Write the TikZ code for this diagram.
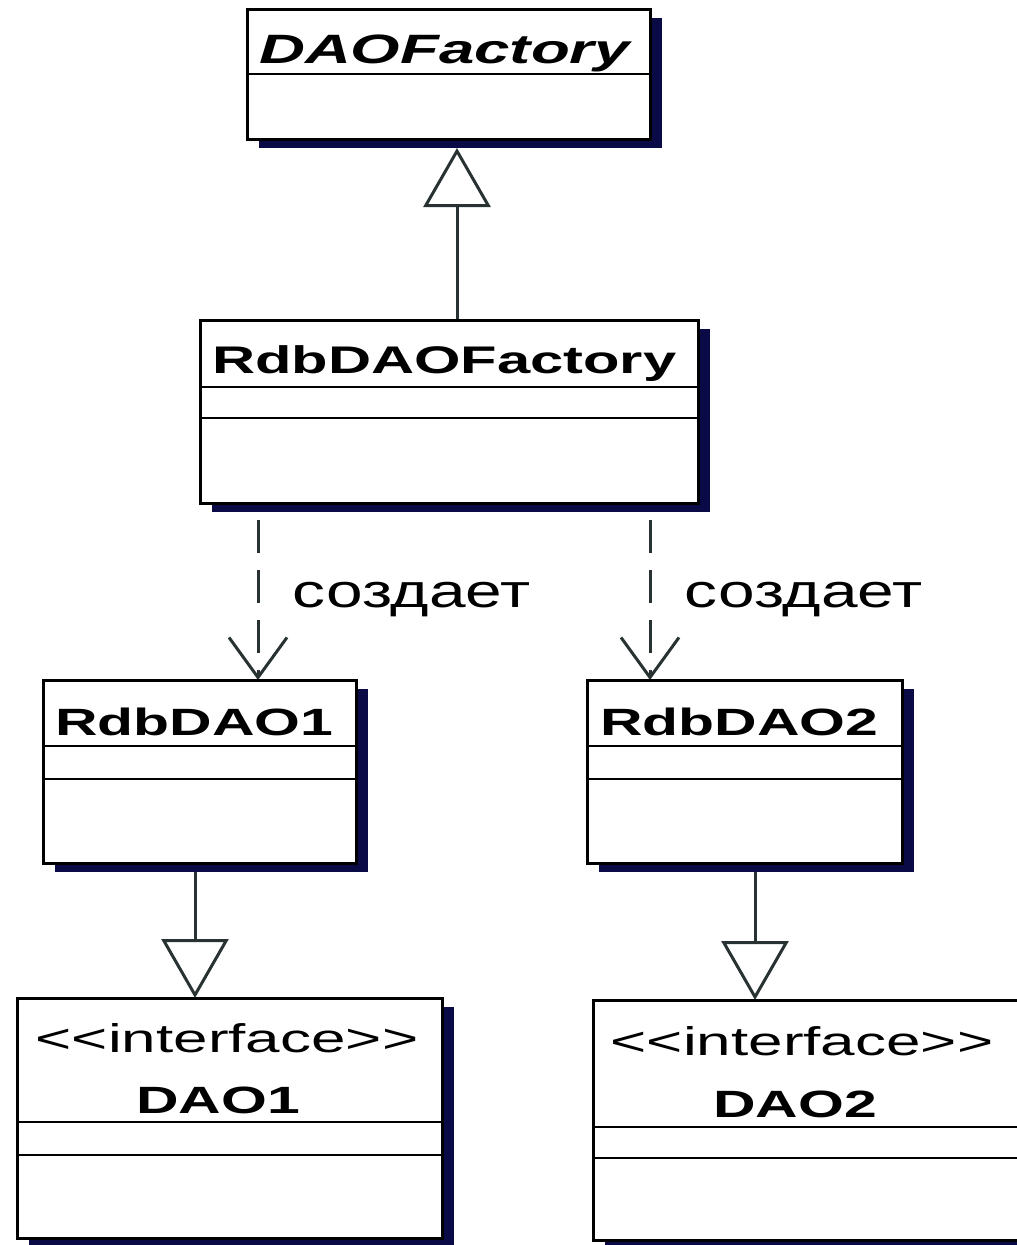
\documentclass[tikz,border=0pt]{standalone}
\usepackage{fontspec}
\newfontfamily\umlfont[FakeStretch=1.55]{Liberation Sans}
\newfontfamily\lblfont[FakeStretch=1.4]{Liberation Sans}
\usetikzlibrary{arrows.meta,calc,shadows,backgrounds}
\definecolor{umlshadow}{RGB}{10,10,70}
\definecolor{conn}{RGB}{40,50,50}
\tikzset{
  classbox/.style={draw=black, line width=3pt, fill=white, anchor=north west,
    inner sep=0pt, outer sep=0pt,
    drop shadow={shadow xshift=12pt, shadow yshift=-9pt, fill=umlshadow, opacity=1}},
  divider/.style={draw=black, line width=2.5pt},
  clsname/.style={anchor=base west, inner sep=0pt,
    font=\umlfont\bfseries\fontsize{38}{38}\selectfont},
  ifname/.style={anchor=base, inner sep=0pt,
    font=\umlfont\bfseries\fontsize{38}{38}\selectfont},
  stereo/.style={anchor=base, inner sep=0pt,
    font=\umlfont\fontsize{40}{40}\selectfont},
  lbl/.style={anchor=base west, inner sep=0pt, xshift=33pt,
    font=\lblfont\fontsize{47}{47}\selectfont},
  gen/.style={draw=conn, line width=3pt,
    -{Triangle[open, length=59pt, width=67pt]}},
  dep/.style={draw=conn, line width=3pt, dash pattern=on 33pt off 17pt, dash phase=33pt,
    -{Straight Barb[length=40pt, width=58pt]}}
}
\begin{document}
\begin{tikzpicture}[x=1pt, y=-1pt]
\useasboundingbox (0,0) rectangle (1017,1245);

% DAOFactory
\node[classbox, minimum width=403pt, minimum height=130pt] (daof) at (247,9) {};
\draw[divider] ($(daof.north west)+(0,65)$) -- ($(daof.north east)+(0,65)$);
\node[clsname, font=\umlfont\bfseries\itshape\fontsize{41}{41}\selectfont] (daoft)
  at ($(daof.north west)+(12,54)$) {DAOFactory};

% RdbDAOFactory
\node[classbox, minimum width=498pt, minimum height=183pt] (rdbf) at (200,320) {};
\draw[divider] ($(rdbf.north west)+(0,67)$) -- ($(rdbf.north east)+(0,67)$);
\draw[divider] ($(rdbf.north west)+(0,98)$) -- ($(rdbf.north east)+(0,98)$);
\node[clsname, font=\umlfont\bfseries\fontsize{38.5}{38.5}\selectfont] (rdbft)
  at ($(rdbf.north west)+(12,53)$) {RdbDAOFactory};

% RdbDAO1
\node[classbox, minimum width=313pt, minimum height=183pt] (rdao1) at (43,680) {};
\draw[divider] ($(rdao1.north west)+(0,66)$) -- ($(rdao1.north east)+(0,66)$);
\draw[divider] ($(rdao1.north west)+(0,99)$) -- ($(rdao1.north east)+(0,99)$);
\node[clsname] (rdao1t) at ($(rdao1.north west)+(12,55)$) {RdbDAO1};

% RdbDAO2
\node[classbox, minimum width=315pt, minimum height=183pt] (rdao2) at (587,680) {};
\draw[divider] ($(rdao2.north west)+(0,66)$) -- ($(rdao2.north east)+(0,66)$);
\draw[divider] ($(rdao2.north west)+(0,99)$) -- ($(rdao2.north east)+(0,99)$);
\node[clsname] (rdao2t) at ($(rdao2.north west)+(13,55)$) {RdbDAO2};

% DAO1
\node[classbox, minimum width=425pt, minimum height=240pt] (dao1) at (17,998) {};
\draw[divider] ($(dao1.north west)+(0,124)$) -- ($(dao1.north east)+(0,124)$);
\draw[divider] ($(dao1.north west)+(0,157)$) -- ($(dao1.north east)+(0,157)$);
\node[stereo] (dao1s) at ($(dao1.north west)+(210,54)$) {<<interface>>};
\node[ifname] (dao1t) at ($(dao1.north west)+(201,115)$) {DAO1};

% DAO2
\node[classbox, minimum width=425pt, minimum height=240pt] (dao2) at (593,1000) {};
\draw[divider] ($(dao2.north west)+(0,127)$) -- ($(dao2.north east)+(0,127)$);
\draw[divider] ($(dao2.north west)+(0,158)$) -- ($(dao2.north east)+(0,158)$);
\node[stereo] (dao2s) at ($(dao2.north west)+(209,55)$) {<<interface>>};
\node[ifname] (dao2t) at ($(dao2.north west)+(202,117)$) {DAO2};

% connector end points
\coordinate (g0s) at ($(rdbf.north west)+(257,0)$);
\coordinate (g0e) at ($(daof.south west)+(210,9)$);
\coordinate (d1) at ($(rdao1.north west)+(215,0)$);
\coordinate (d2) at ($(rdao2.north west)+(63,0)$);
\coordinate (g1s) at ($(rdao1.south west)+(152,0)$);
\coordinate (g1e) at ($(dao1.north west)+(178,0)$);
\coordinate (g2s) at ($(rdao2.south west)+(168,0)$);
\coordinate (g2e) at ($(dao2.north west)+(162,0)$);

\begin{scope}[on background layer]
  \fill[white] (0,0) rectangle (1017,1245);
  \draw[gen] (g0s) -- (g0e);
  \draw[dep] (rdbf.south -| d1) -- node[lbl, pos=0.593] (l1) {создает} (d1);
  \draw[dep] (rdbf.south -| d2) -- node[lbl, pos=0.593] (l2) {создает} (d2);
  \draw[gen] (g1s) -- (g1s |- g1e);
  \draw[gen] (g2s) -- (g2s |- g2e);
\end{scope}
\end{tikzpicture}
\end{document}
